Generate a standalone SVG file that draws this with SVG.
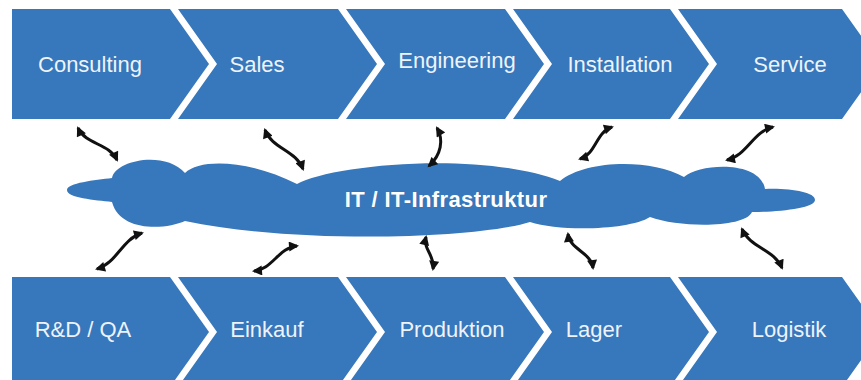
<svg xmlns="http://www.w3.org/2000/svg" width="861" height="380" viewBox="0 0 861 380">
<defs>
<style>
.step{fill:#3777bb}
.lbl{fill:#eef3fa;font-family:"Liberation Sans",Arial,sans-serif;font-size:22px;text-anchor:middle}
.cloud{fill:#3777bb}
.ctext{fill:#ffffff;font-family:"Liberation Sans",Arial,sans-serif;font-size:22px;font-weight:bold;text-anchor:middle}
.arr{fill:none;stroke:#111;stroke-width:3;marker-start:url(#ah);marker-end:url(#ah)}
</style>
<marker id="ah" viewBox="0 0 10 10" refX="8" refY="5" markerWidth="11" markerHeight="10" markerUnits="userSpaceOnUse" orient="auto-start-reverse">
<path d="M0,0 L10,5 L0,10 Z" fill="#111"/>
</marker>
</defs>
<rect width="861" height="380" fill="#ffffff"/>

<g id="consulting"><path class="step" d="M12,9 L170,9 L209,64 L170,119 L12,119 Z"/><text class="lbl" x="90" y="72">Consulting</text></g>
<g id="sales"><path class="step" d="M178,9 L338,9 L377,64 L338,119 L178,119 L217,64 Z"/><text class="lbl" x="257" y="72">Sales</text></g>
<g id="engineering"><path class="step" d="M346,9 L505,9 L544,64 L505,119 L346,119 L385,64 Z"/><text class="lbl" x="457" y="68">Engineering</text></g>
<g id="installation"><path class="step" d="M513,9 L670,9 L709,64 L670,119 L513,119 L552,64 Z"/><text class="lbl" x="620" y="72">Installation</text></g>
<g id="service"><path class="step" d="M678,9 L842,9 L881,64 L842,119 L678,119 L717,64 Z"/><text class="lbl" x="790" y="72">Service</text></g>

<g id="rdqa"><path class="step" d="M12,277 L170,277 L209,332 L170,387 L12,387 Z"/><text class="lbl" x="83" y="337">R&amp;D / QA</text></g>
<g id="einkauf"><path class="step" d="M178,277 L338,277 L377,332 L338,387 L178,387 L217,332 Z"/><text class="lbl" x="267" y="337">Einkauf</text></g>
<g id="produktion"><path class="step" d="M346,277 L505,277 L544,332 L505,387 L346,387 L385,332 Z"/><text class="lbl" x="452" y="337">Produktion</text></g>
<g id="lager"><path class="step" d="M513,277 L670,277 L709,332 L670,387 L513,387 L552,332 Z"/><text class="lbl" x="594" y="337">Lager</text></g>
<g id="logistik"><path class="step" d="M678,277 L842,277 L881,332 L842,387 L678,387 L717,332 Z"/><text class="lbl" x="789" y="337">Logistik</text></g>

<g id="it">
<path class="cloud" d="M67,190 C67,183 95,180 112,178 C115,160 165,150 185,173 C200,158 250,160 297,184 C330,165 480,150 560,181 C585,160 650,158 684,177 C700,163 760,160 765,189 C790,188 815,192 815,200 C815,208 780,212 752,212 C745,228 680,228 650,217 C630,230 560,232 530,222 C480,238 300,245 185,221 C165,230 120,232 112,202 C95,200 67,198 67,190 Z"/>
<text class="ctext" x="446" y="207" letter-spacing="0.4">IT / IT-Infrastruktur</text>
</g>

<g id="connectors">
<path class="arr" d="M78,128 C85.9,144.9 109.1,143.1 117,160"/>
<path class="arr" d="M265,130 C271.9,148.6 296.1,150.4 303,169"/>
<path class="arr" d="M437,128 C444,140 441,155 429,166"/>
<path class="arr" d="M612,127 C595.7,132.1 596.3,153.9 580,159"/>
<path class="arr" d="M773,127 C753.1,131.4 746.9,155.6 727,160"/>
<path class="arr" d="M142,233 C122,238.8 117,263.2 97,269"/>
<path class="arr" d="M297,246 C278.7,247.4 272.3,269.6 254,271"/>
<path class="arr" d="M426,237 C423,250 435,255 433,269"/>
<path class="arr" d="M568,234 C569.9,250.1 591.1,251.9 593,268"/>
<path class="arr" d="M742,229 C749.7,247.8 774.3,249.2 782,268"/>
</g>
</svg>
